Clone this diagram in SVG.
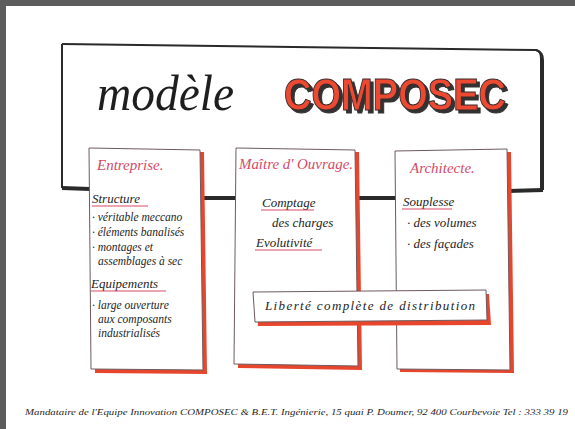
<svg xmlns="http://www.w3.org/2000/svg" width="575" height="429" viewBox="0 0 575 429">
<defs>
<filter id="ds" x="-10%" y="-20%" width="130%" height="150%">
<feDropShadow dx="3" dy="3" stdDeviation="0.3" flood-color="#333333" flood-opacity="1"/>
</filter>
</defs>
<style>
.hand{font-family:"Liberation Serif","DejaVu Serif",serif;font-style:italic;fill:#1e1e1e}
.t{font-size:13px}
.ttl{font-family:"Liberation Serif","DejaVu Serif",serif;font-style:italic;fill:#d44a66;font-size:15px}
.ul{stroke:#d94a66;stroke-width:1.2;fill:none}
.shadow{fill:#e8462c}
.panel{fill:#fff;stroke:#6e5a5e;stroke-width:1}
.frame{fill:none;stroke:#2a2a2a;stroke-width:2}
</style>
<rect x="0" y="0" width="575" height="429" fill="#ffffff"/>
<rect x="0" y="0" width="575" height="6" fill="#5c5c5c"/>
<rect x="0" y="0" width="6" height="429" fill="#5c5c5c"/>

<g id="title-frame">
<path class="frame" d="M62,44 L536,50 Q541,51 541,58 L541,190"/>
<path class="frame" d="M536,50 Q543,52 543,60 L543,190" stroke-width="3"/>
<path class="frame" d="M62,44 L62,188"/>
<path d="M62,188 L90,189" stroke="#2a2a2a" stroke-width="4" fill="none"/>
<text x="97" y="110" class="hand" font-size="50" textLength="137" lengthAdjust="spacingAndGlyphs">modèle</text>
<text x="284" y="110" font-family="Liberation Sans, Arial, sans-serif" font-weight="bold" font-size="44" fill="#ec4a32" stroke="#3a2a2a" stroke-width="1" textLength="222" lengthAdjust="spacingAndGlyphs" filter="url(#ds)">COMPOSEC</text>
</g>

<g id="connectors">
<path d="M200,198 L240,198" stroke="#2a2a2a" stroke-width="4" fill="none"/>
<path d="M355,198 L396,198" stroke="#2a2a2a" stroke-width="4" fill="none"/>
<path d="M507,191 L543,190" stroke="#2a2a2a" stroke-width="4" fill="none"/>
</g>

<g id="entreprise">
<polygon class="shadow" points="93,151 204,152 207,374 95,373"/>
<polygon class="panel" points="89,148 200,150 203,370 91,369"/>
<text x="97" y="170" class="ttl">Entreprise.</text>
<text x="92" y="203" class="hand t">Structure</text>
<path class="ul" d="M92,206 L148,206"/>
<text x="92" y="221" class="hand" font-size="11.5">· véritable meccano</text>
<text x="92" y="236" class="hand" font-size="11.5">· éléments banalisés</text>
<text x="92" y="251" class="hand" font-size="11.5">· montages et</text>
<text x="98" y="265" class="hand" font-size="11.5">assemblages à sec</text>
<text x="91" y="288" class="hand t">Equipements</text>
<path class="ul" d="M91,291 L166,291"/>
<text x="92" y="309" class="hand" font-size="11.5">· large ouverture</text>
<text x="98" y="323" class="hand" font-size="11.5">aux composants</text>
<text x="98" y="337" class="hand" font-size="11.5">industrialisés</text>
</g>

<g id="maitre-ouvrage">
<polygon class="shadow" points="239,151 359,152 362,370 238,368"/>
<polygon class="panel" points="236,148 355,150 358,366 234,364"/>
<text x="239" y="169" class="ttl" textLength="114" lengthAdjust="spacingAndGlyphs">Maître d' Ouvrage.</text>
<text x="262" y="207" class="hand t">Comptage</text>
<path class="ul" d="M261,210 L314,210"/>
<text x="272" y="227" class="hand t">des charges</text>
<text x="256" y="247" class="hand t">Evolutivité</text>
<path class="ul" d="M255,250 L322,250"/>
</g>

<g id="architecte">
<polygon class="shadow" points="398,154 511,152 514,373 400,372"/>
<polygon class="panel" points="395,151 507,149 510,370 397,369"/>
<text x="410" y="173" class="ttl" font-size="16">Architecte.</text>
<text x="403" y="206" class="hand t">Souplesse</text>
<path class="ul" d="M402,209 L452,209"/>
<text x="407" y="227" class="hand t">· des volumes</text>
<text x="407" y="248" class="hand t">· des façades</text>
</g>

<g id="liberte">
<polygon class="shadow" points="256,296 489,294 491,325 258,326"/>
<polygon class="panel" points="253,292 486,290 487,320 255,322" stroke="#333"/>
<text x="265" y="310" class="hand t" textLength="210" lengthAdjust="spacing">Liberté complète de distribution</text>
</g>

<text x="25" y="415" class="hand" font-size="8" textLength="543" lengthAdjust="spacingAndGlyphs">Mandataire de l'Equipe Innovation COMPOSEC &amp; B.E.T. Ingénierie, 15 quai P. Doumer, 92 400 Courbevoie  Tel : 333 39 19</text>
</svg>
